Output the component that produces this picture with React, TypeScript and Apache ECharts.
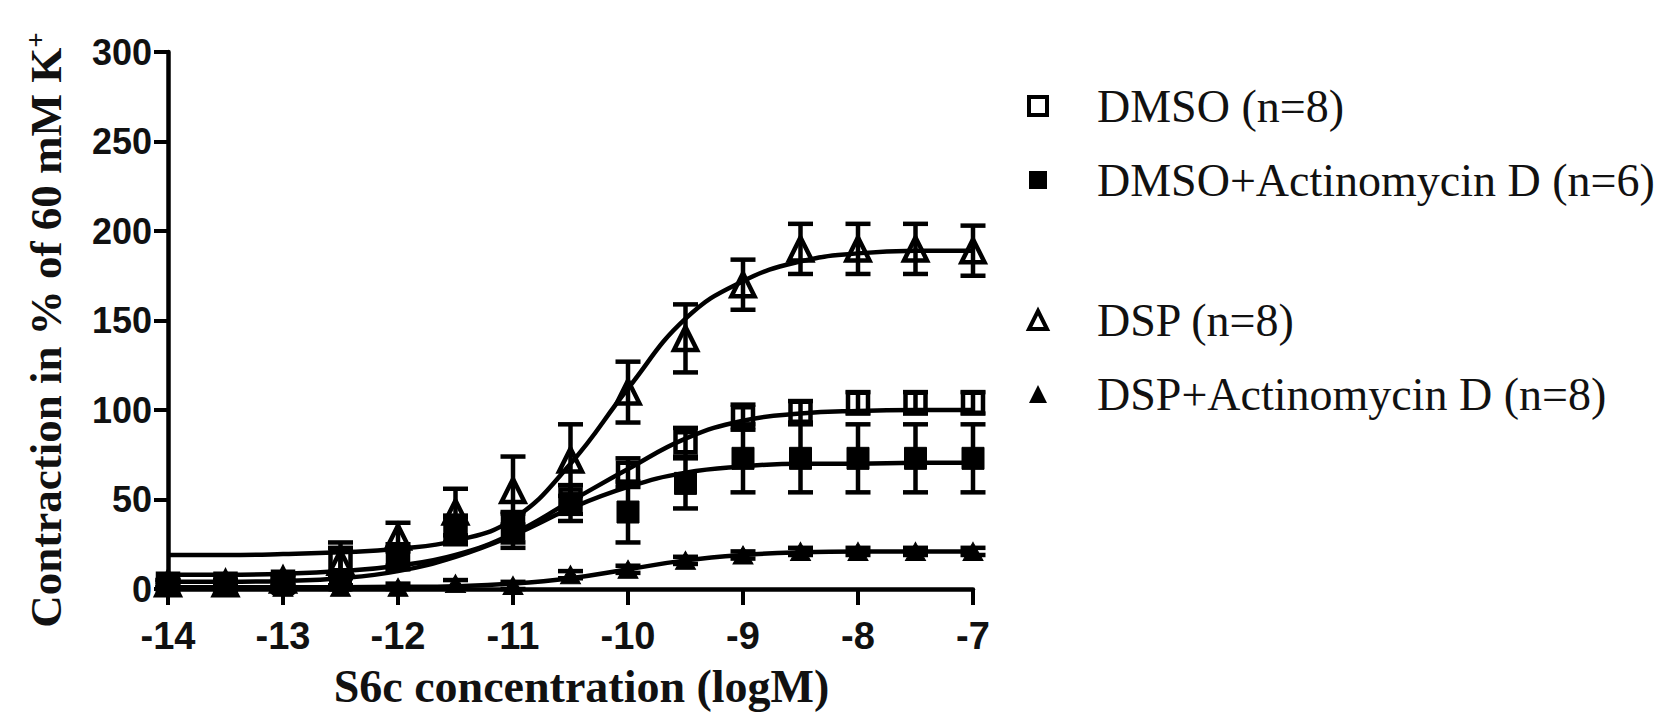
import React, { useEffect, useRef } from 'react';
import * as echarts from 'echarts';

// Concentrations (log M)
const xValues = [-14, -13.5, -13, -12.5, -12, -11.5, -11, -10.5, -10, -9.5, -9, -8.5, -8, -7.5, -7];

// Measured means and SEM (% of 60 mM K+)
const dmsoMean = [3, 3, 4, 16, 17, 33, 34, 50, 65, 82, 96, 99, 104, 104, 104];
const dmsoErr = [2, 2, 3, 10, 6, 7, 8, 8, 8, 8, 7, 6, 6, 6, 6];
const actdMean = [2, 2, 3, 5, 19, 33, 33, 48, 43, 59, 73, 73, 73, 73, 73];
const actdErr = [2, 2, 2, 3, 6, 8, 10, 10, 17, 14, 19, 19, 19, 19, 19];
const dspMean = [3, 3, 5, 15, 29, 43, 55, 72, 110, 140, 170, 190, 190, 190, 189];
const dspErr = [2, 2, 3, 8, 8, 13, 19, 20, 17, 19, 14, 14, 14, 14, 14];
const dspActdMean = [1, 1, 1, 1, 1, 3, 2, 8, 11, 16, 19, 21, 21, 21, 21];
const dspActdErr = [1, 1, 1, 1, 2, 2, 2, 2, 2, 2, 2, 2, 2, 2, 2];

// Fitted curves at the same concentrations
const fitDMSO = [8, 8, 8.5, 10, 13, 19, 31, 49, 67, 84, 94, 98, 99.5, 100, 100];
const fitActD = [4, 4, 4.5, 6, 10, 18, 30, 45, 57, 65, 68.5, 70, 70, 70.5, 70.5];
const fitDSP = [19, 19, 19.5, 20.5, 22.5, 27, 39, 70, 112, 151, 172, 183, 187.5, 189, 189];
const fitDspActD = [1, 1, 1, 1, 1.2, 1.6, 3, 6, 11, 16, 19, 20.5, 21, 21, 21];

const names = ['DMSO (n=8)', 'DMSO+Actinomycin D (n=6)', 'DSP (n=8)', 'DSP+Actinomycin D (n=8)'];
const yTitle = 'Contraction in % of 60 mM K';
const xTitle = 'S6c concentration (logM)';

const pair = (ys: number[]) => xValues.map((x, i) => [x, ys[i]]);
const triple = (ys: number[], es: number[]) => xValues.map((x, i) => [x, ys[i], es[i]]);

export default function App() {
  const ref = useRef<HTMLDivElement>(null);
  useEffect(() => {
    if (!ref.current) return;
    const chart = echarts.init(ref.current, undefined, { renderer: 'svg' });
    const black = '#000';
    const serif = 'Liberation Serif, Times New Roman, serif';
    const sans = 'Liberation Sans, Arial, sans-serif';
    const curve = (d: number[]) => ({
      type: 'line',
      data: pair(d),
      smooth: 0.45,
      showSymbol: false,
      symbol: 'none',
      silent: true,
      lineStyle: { color: black, width: 4.5 },
      z: 2,
    });
    const errBars = (m: number[], e: number[]) => ({
      type: 'custom',
      data: triple(m, e),
      encode: { x: 0, y: 1 },
      silent: true,
      z: 3,
      renderItem: (_p: any, api: any) => {
        const x = api.value(0);
        const mv = api.value(1);
        const ev = api.value(2);
        const top = api.coord([x, mv + ev]);
        const bot = api.coord([x, Math.max(0, mv - ev)]);
        const hw = 12.5;
        const style = { stroke: black, lineWidth: 4.5 };
        return {
          type: 'group',
          children: [
            { type: 'line', shape: { x1: top[0], y1: top[1], x2: bot[0], y2: bot[1] }, style },
            { type: 'line', shape: { x1: top[0] - hw, y1: top[1], x2: top[0] + hw, y2: top[1] }, style },
            { type: 'line', shape: { x1: bot[0] - hw, y1: bot[1], x2: bot[0] + hw, y2: bot[1] }, style },
          ],
        };
      },
    });
    const markers = (name: string, d: number[], symbol: string, size: any, filled: boolean) => ({
      type: 'scatter',
      name,
      data: pair(d),
      symbol,
      symbolSize: size,
      silent: true,
      z: 4,
      itemStyle: filled
        ? { color: black, borderColor: black, borderWidth: 1, opacity: 1 }
        : { color: 'rgba(255,255,255,0)', borderColor: black, borderWidth: 4.5, opacity: 1 },
    });
    const legendText = {
      fontFamily: serif,
      fontSize: 46,
      color: '#111',
      lineHeight: 48,
      padding: [0, 0, 0, 45],
    };
    const openIcon = { color: '#fff', borderColor: black, borderWidth: 4 };
    const fillIcon = { color: black, borderColor: black, borderWidth: 0 };
    chart.setOption({
      animation: false,
      backgroundColor: '#fff',
      grid: { left: 168, right: 695, top: 52, bottom: 128, containLabel: false, outerBoundsMode: 'none' },
      legend: [
        {
          orient: 'vertical',
          left: 1022,
          top: 77,
          itemWidth: 18,
          itemHeight: 18,
          itemGap: 26,
          selectedMode: false,
          textStyle: legendText,
          data: [
            { name: names[0], icon: 'rect', itemStyle: openIcon },
            { name: names[1], icon: 'rect', itemStyle: fillIcon },
          ],
        },
        {
          orient: 'vertical',
          left: 1022,
          top: 291,
          itemWidth: 18,
          itemHeight: 18,
          itemGap: 26,
          selectedMode: false,
          textStyle: legendText,
          data: [
            { name: names[2], icon: 'triangle', itemStyle: openIcon },
            { name: names[3], icon: 'triangle', itemStyle: fillIcon },
          ],
        },
      ],
      graphic: [
        {
          type: 'text',
          x: 46,
          y: 330,
          rotation: Math.PI / 2,
          silent: true,
          style: {
            text: '{a|' + yTitle + '}{b|+}',
            align: 'center',
            verticalAlign: 'middle',
            rich: {
              a: { fontFamily: serif, fontWeight: 'bold', fontSize: 45, lineHeight: 48, fill: '#111', color: '#111' },
              b: {
                fontFamily: serif,
                fontWeight: 'bold',
                fontSize: 27,
                lineHeight: 27,
                verticalAlign: 'top',
                fill: '#111',
                color: '#111',
              },
            },
          },
        },
      ],
      xAxis: {
        type: 'value',
        min: -14,
        max: -7,
        interval: 1,
        name: xTitle,
        nameLocation: 'middle',
        nameGap: 74,
        nameTextStyle: {
          fontFamily: serif,
          fontWeight: 'bold',
          fontSize: 46,
          color: '#111',
          padding: [0, 0, 0, 22],
        },
        axisLine: { show: true, onZero: false, lineStyle: { color: black, width: 4.5 } },
        axisTick: { show: true, length: 16, lineStyle: { color: black, width: 4 } },
        axisLabel: {
          margin: 28,
          fontFamily: sans,
          fontWeight: 'bold',
          fontSize: 38,
          color: '#111',
        },
        splitLine: { show: false },
      },
      yAxis: {
        type: 'value',
        min: 0,
        max: 300,
        interval: 50,
        axisLine: { show: true, lineStyle: { color: black, width: 4.5 } },
        axisTick: { show: true, length: 14, lineStyle: { color: black, width: 4 } },
        axisLabel: {
          margin: 16,
          fontFamily: sans,
          fontWeight: 'bold',
          fontSize: 36,
          color: '#111',
        },
        splitLine: { show: false },
      },
      series: [
        curve(fitDSP),
        curve(fitDMSO),
        curve(fitActD),
        curve(fitDspActD),
        errBars(dspMean, dspErr),
        errBars(dmsoMean, dmsoErr),
        errBars(actdMean, actdErr),
        errBars(dspActdMean, dspActdErr),
        markers(names[0], dmsoMean, 'rect', 20, false),
        markers(names[1], actdMean, 'rect', 22, true),
        markers(names[2], dspMean, 'triangle', [23, 23], false),
        markers(names[3], dspActdMean, 'triangle', [20, 18], true),
      ],
    });
    return () => chart.dispose();
  }, []);
  return (
    <div
      ref={ref}
      style={{ position: 'fixed', left: 0, top: 0, width: 1668, height: 717, background: '#fff' }}
    />
  );
}
